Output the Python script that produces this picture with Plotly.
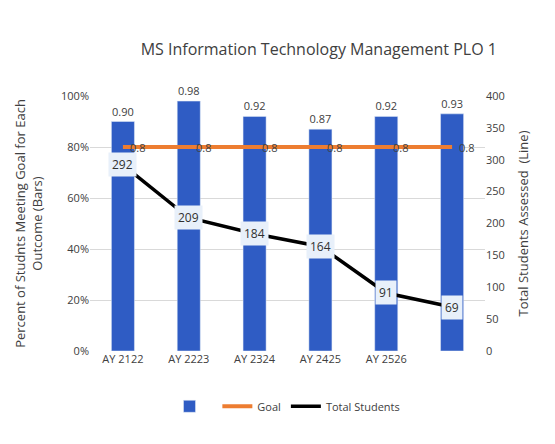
import plotly.graph_objects as go

categories = ["AY 2122", "AY 2223", "AY 2324", "AY 2425", "AY 2526", "AY 2627"]
tick_labels = ["AY 2122", "AY 2223", "AY 2324", "AY 2425", "AY 2526", ""]
percent_met = [0.90, 0.98, 0.92, 0.87, 0.92, 0.93]
goal = [0.8, 0.8, 0.8, 0.8, 0.8, 0.8]
total_students = [292, 209, 184, 164, 91, 69]

font = "Open Sans, Noto Sans, sans-serif"
fig = go.Figure()
fig.add_trace(go.Bar(x=categories, y=percent_met, name=" ", marker_color="#2f5cc4",
                     width=0.35, text=[f"{v:.2f}" for v in percent_met],
                     textposition="outside", textfont=dict(size=11, color="#404040"),
                     cliponaxis=False))
fig.add_trace(go.Scatter(x=categories, y=goal, name="Goal", mode="lines",
                         line=dict(color="#ed7d31", width=4)))
fig.add_trace(go.Scatter(x=categories, y=total_students, name="Total Students", mode="lines",
                         line=dict(color="black", width=3.5), yaxis="y2"))
for c, v in zip(categories, goal):
    fig.add_annotation(x=c, y=v, text=str(v), showarrow=False, xanchor="left", xshift=5,
                       font=dict(size=11, color="#404040"))
for c, v in zip(categories, total_students):
    fig.add_annotation(x=c, y=v, yref="y2", text=str(v), showarrow=False,
                       bgcolor="#e8f0fa", font=dict(size=12, color="#303030"), borderpad=3)

fig.update_layout(
    width=555, height=444, plot_bgcolor="white", paper_bgcolor="white",
    font=dict(family=font, color="#404040", size=11),
    margin=dict(l=78, r=78, t=88, b=101),
    title=dict(text="MS Information Technology Management PLO 1", x=0.56, y=0.92,
               xanchor="center", font=dict(size=16, color="#404040")),
    xaxis=dict(tickvals=categories, ticktext=tick_labels, showgrid=False, showline=False),
    yaxis=dict(range=[0, 1], tickformat=".0%", dtick=0.2, gridcolor="#d9d9d9",
               zeroline=False,
               title=dict(text="Percent of Studnts Meeting Goal for Each<br>Outcome (Bars)",
                          font=dict(size=13))),
    yaxis2=dict(range=[0, 400], dtick=50, overlaying="y", side="right", showgrid=False,
                title=dict(text="Total Students Assessed  (Line)", font=dict(size=13))),
    legend=dict(orientation="h", x=0.5, xanchor="center", y=-0.16, font=dict(size=11)),
    bargap=0.5,
)
fig.write_html("out.html")
